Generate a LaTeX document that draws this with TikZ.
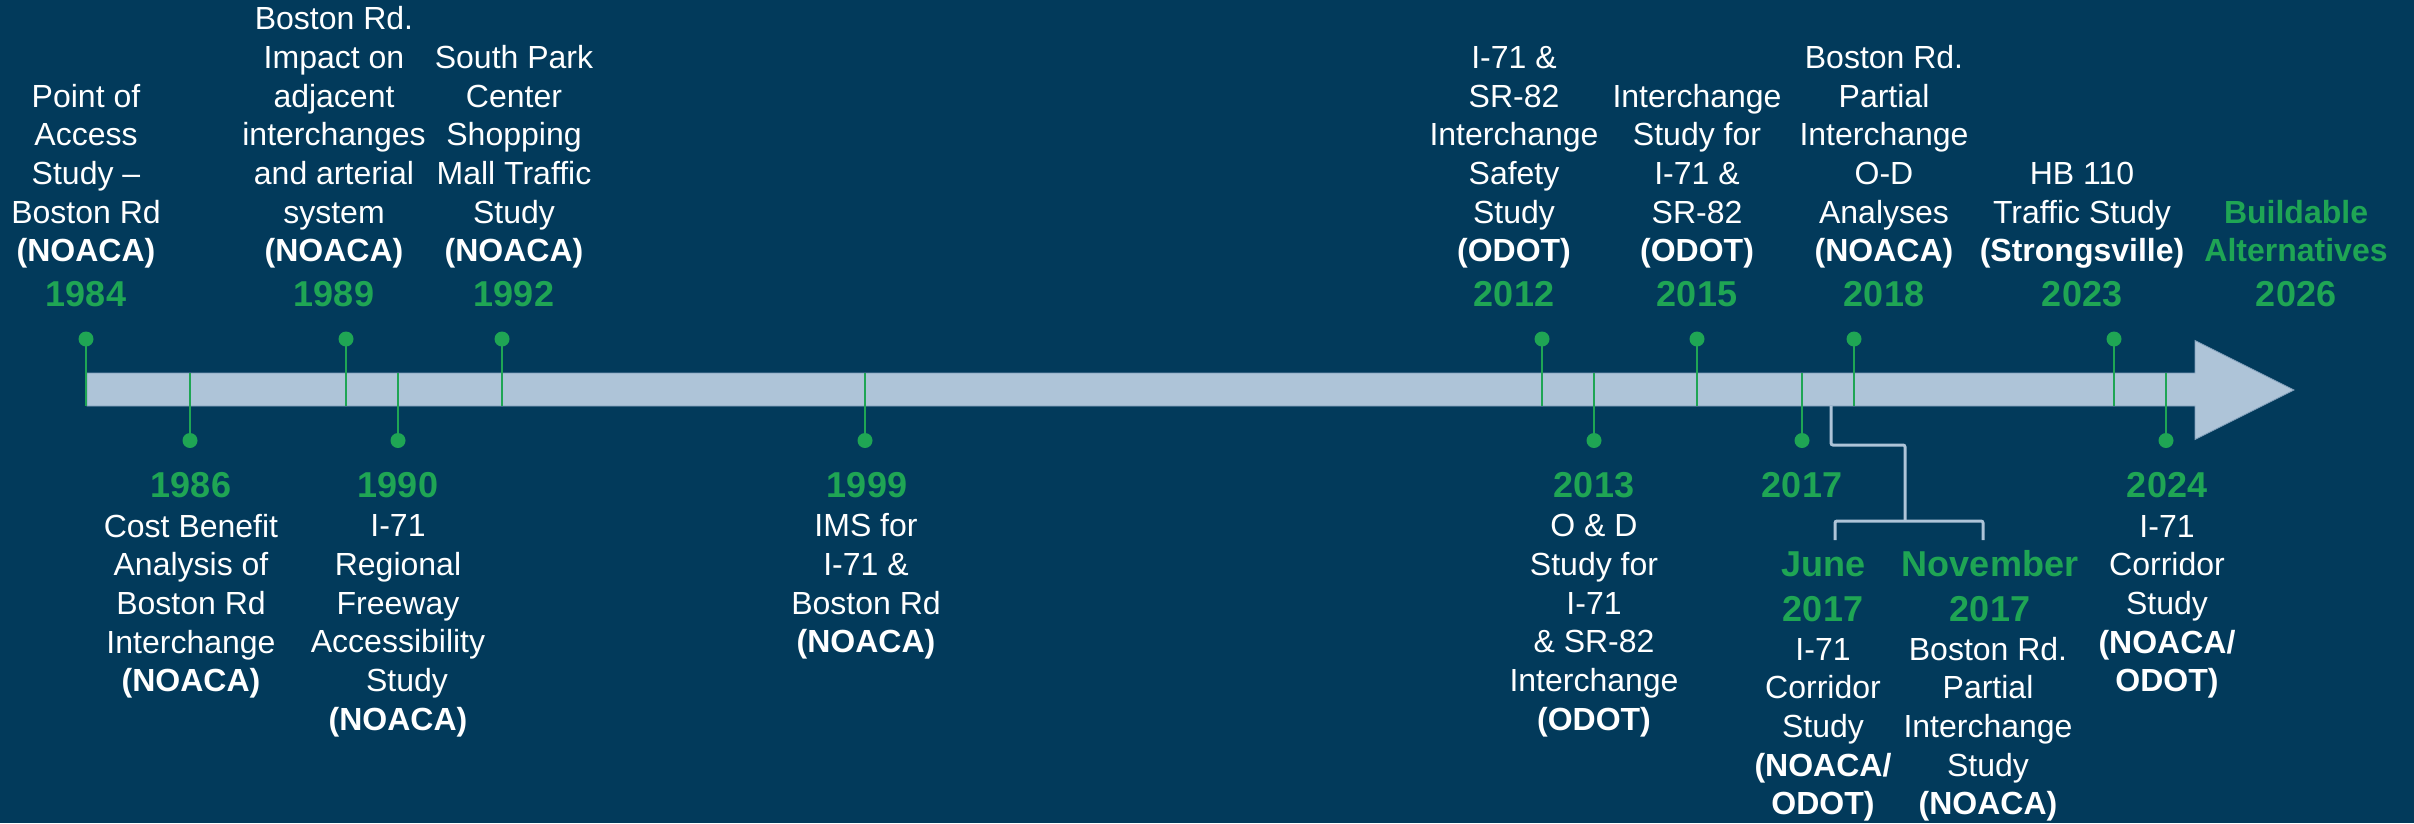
\documentclass[tikz,border=0pt]{standalone}
\usepackage{fontspec}
\setmainfont{Liberation Sans}
\definecolor{bg}{HTML}{023A5B}
\definecolor{barc}{HTML}{AEC4D8}
\definecolor{barline}{HTML}{7F9DB9}
\definecolor{grn}{HTML}{1FA554}
\begin{document}
\begin{tikzpicture}[x=1pt,y=-1pt,
  lab/.style={text=white, align=center, inner sep=0pt, text depth=0pt, anchor=south,
    font=\fontsize{32}{38.7}\selectfont},
  glab/.style={lab, text=grn, font=\bfseries\fontsize{32}{38.7}\selectfont},
  yr/.style={text=grn, font=\bfseries\fontsize{36}{43}\selectfont, inner sep=0pt, anchor=base},
  gyr/.style={text=grn, align=center, inner sep=0pt, text depth=0pt, anchor=south,
    font=\bfseries\fontsize{36}{45}\selectfont},
  dot/.style={circle, fill=grn, inner sep=0pt, minimum size=15pt},
  tick/.style={draw=grn, line width=2.8pt},
  brk/.style={draw=barc, line width=3pt, rounded corners=2pt}]
\fill[bg] (0,0) rectangle (2414,823);
\useasboundingbox (0,0) rectangle (2414,823);
% bar with arrowhead
\filldraw[fill=barc, draw=barline, line width=0.8pt]
  (87,373) -- (2195,373) -- (2195,340.5) -- (2294,390) -- (2195,439.5) -- (2195,406) -- (87,406) -- cycle;
% ticks above the bar
\foreach \n/\x in {1984/86, 1989/346, 1992/502, 2012/1542, 2015/1697, 2018/1854, 2023/2114}{
  \node[dot] (d\n) at (\x,339) {};
  \coordinate (b\n) at (\x,406);
  \draw[tick] (d\n.center) -- (b\n);
}
% ticks below the bar
\foreach \n/\x in {1986/190, 1990/398, 1999/865, 2013/1594, 2017/1802, 2024/2166}{
  \node[dot] (d\n) at (\x,440.5) {};
  \coordinate (b\n) at (\x,373);
  \draw[tick] (b\n) -- (d\n.center);
}
% bracket for 2017
\coordinate (k0) at (1831,406);
\coordinate (k1) at (1905,521);
\coordinate (kl) at (1835,540);
\coordinate (kr) at (1983,540);
\draw[brk] (k0) |- (1905,445) -- (k1);
\draw[brk] (kl) |- (k1) -| (kr);
% labels above
\node[lab] (t1984) at (86,262) {Point of\\Access\\Study –\\Boston Rd\\\textbf{(NOACA)}};
\node[yr] (y1984) at (86,306) {1984};
\node[lab] (t1989) at (334,262) {Boston Rd.\\Impact on\\adjacent\\interchanges\\and arterial\\system\\\textbf{(NOACA)}};
\node[yr] (y1989) at (334,306) {1989};
\node[lab] (t1992) at (514,262) {South Park\\Center\\Shopping\\Mall Traffic\\Study\\\textbf{(NOACA)}};
\node[yr] (y1992) at (514,306) {1992};
\node[lab] (t2012) at (1514,262) {I-71 \&\\SR-82\\Interchange\\Safety\\Study\\\textbf{(ODOT)}};
\node[yr] (y2012) at (1514,306) {2012};
\node[lab] (t2015) at (1697,262) {Interchange\\Study for\\I-71 \&\\SR-82\\\textbf{(ODOT)}};
\node[yr] (y2015) at (1697,306) {2015};
\node[lab] (t2018) at (1884,262) {Boston Rd.\\Partial\\Interchange\\O-D\\Analyses\\\textbf{(NOACA)}};
\node[yr] (y2018) at (1884,306) {2018};
\node[lab] (t2023) at (2082,262) {HB 110\\Traffic Study\\\textbf{(Strongsville)}};
\node[yr] (y2023) at (2082,306) {2023};
\node[glab] (t2026) at (2296,262) {Buildable\\Alternatives};
\node[yr] (y2026) at (2296,306) {2026};
% labels below
\node[yr] (y1986) at (191,497) {1986};
\node[lab] (t1986) at (191,692) {Cost Benefit\\Analysis of\\Boston Rd\\Interchange\\\textbf{(NOACA)}};
\node[yr] (y1990) at (398,497) {1990};
\node[lab] (t1990) at (398,730.5) {I-71\\Regional\\Freeway\\Accessibility\\\hspace*{18pt}Study\\\textbf{(NOACA)}};
\node[yr] (y1999) at (867,497) {1999};
\node[lab] (t1999) at (866,653) {IMS for\\I-71 \&\\Boston Rd\\\textbf{(NOACA)}};
\node[yr] (y2013) at (1594,497) {2013};
\node[lab] (t2013) at (1594,730.5) {O \& D\\Study for\\I-71\\\& SR-82\\Interchange\\\textbf{(ODOT)}};
\node[yr] (y2017) at (1802,497) {2017};
\node[gyr] (yjun) at (1823,622) {June\\2017};
\node[lab] (tjun) at (1823,815) {I-71\\Corridor\\Study\\\textbf{(NOACA/}\\\textbf{ODOT)}};
\node[gyr] (ynov) at (1990,622) {November\\2017};
\node[lab] (tnov) at (1988,815) {Boston Rd.\\Partial\\Interchange\\Study\\\textbf{(NOACA)}};
\node[yr] (y2024) at (2167,497) {2024};
\node[lab] (t2024) at (2167,692) {I-71\\Corridor\\Study\\\textbf{(NOACA/}\\\textbf{ODOT)}};
\end{tikzpicture}
\end{document}
